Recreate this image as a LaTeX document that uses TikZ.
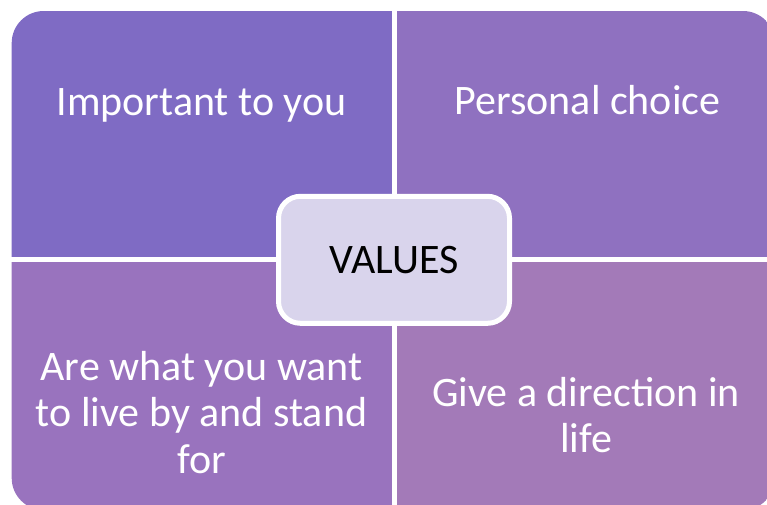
\documentclass[tikz,border=0pt]{standalone}
\usepackage{fontspec}
\setmainfont{Carlito}
\definecolor{qtl}{RGB}{127,107,196}
\definecolor{qtr}{RGB}{143,113,192}
\definecolor{qbl}{RGB}{153,115,190}
\definecolor{qbr}{RGB}{163,122,184}
\definecolor{cfill}{RGB}{217,212,236}
\tikzset{
  qtext/.style={text=white, align=center, inner sep=0pt, anchor=base,
    font=\fontsize{42}{46.5}\selectfont},
  centrebox/.style={draw=white, line width=5pt, fill=cfill, rounded corners=22pt,
    minimum width=231pt, minimum height=127pt, inner sep=0pt,
    text height=27pt, text depth=0pt, font=\fontsize{42}{46.5}\selectfont}
}
\begin{document}
\begin{tikzpicture}[x=1pt,y=-1pt]
\useasboundingbox (0,0) rectangle (767,504);
\begin{scope}
  \clip[rounded corners=32pt] (11.7,11) rectangle (775,510);
  \fill[qtl] (0,0) rectangle (392.3,257.3);
  \fill[qtr] (396.7,0) rectangle (800,257.3);
  \fill[qbl] (0,261.7) rectangle (392.3,520);
  \fill[qbr] (396.7,261.7) rectangle (800,520);
\end{scope}
\node[qtext] (imp) at (201.5,115) {Important to you};
\node[qtext] (pers) at (587.5,114.5) {Personal choice};
\node[qtext] (live) at (201.5,473) {Are what you want\\to live by and stand\\for};
\node[qtext] (dir) at (586,452.7) {Give a direction in\\life};
\node[centrebox] (values) at (394,259.8) {VALUES};
\end{tikzpicture}
\end{document}
